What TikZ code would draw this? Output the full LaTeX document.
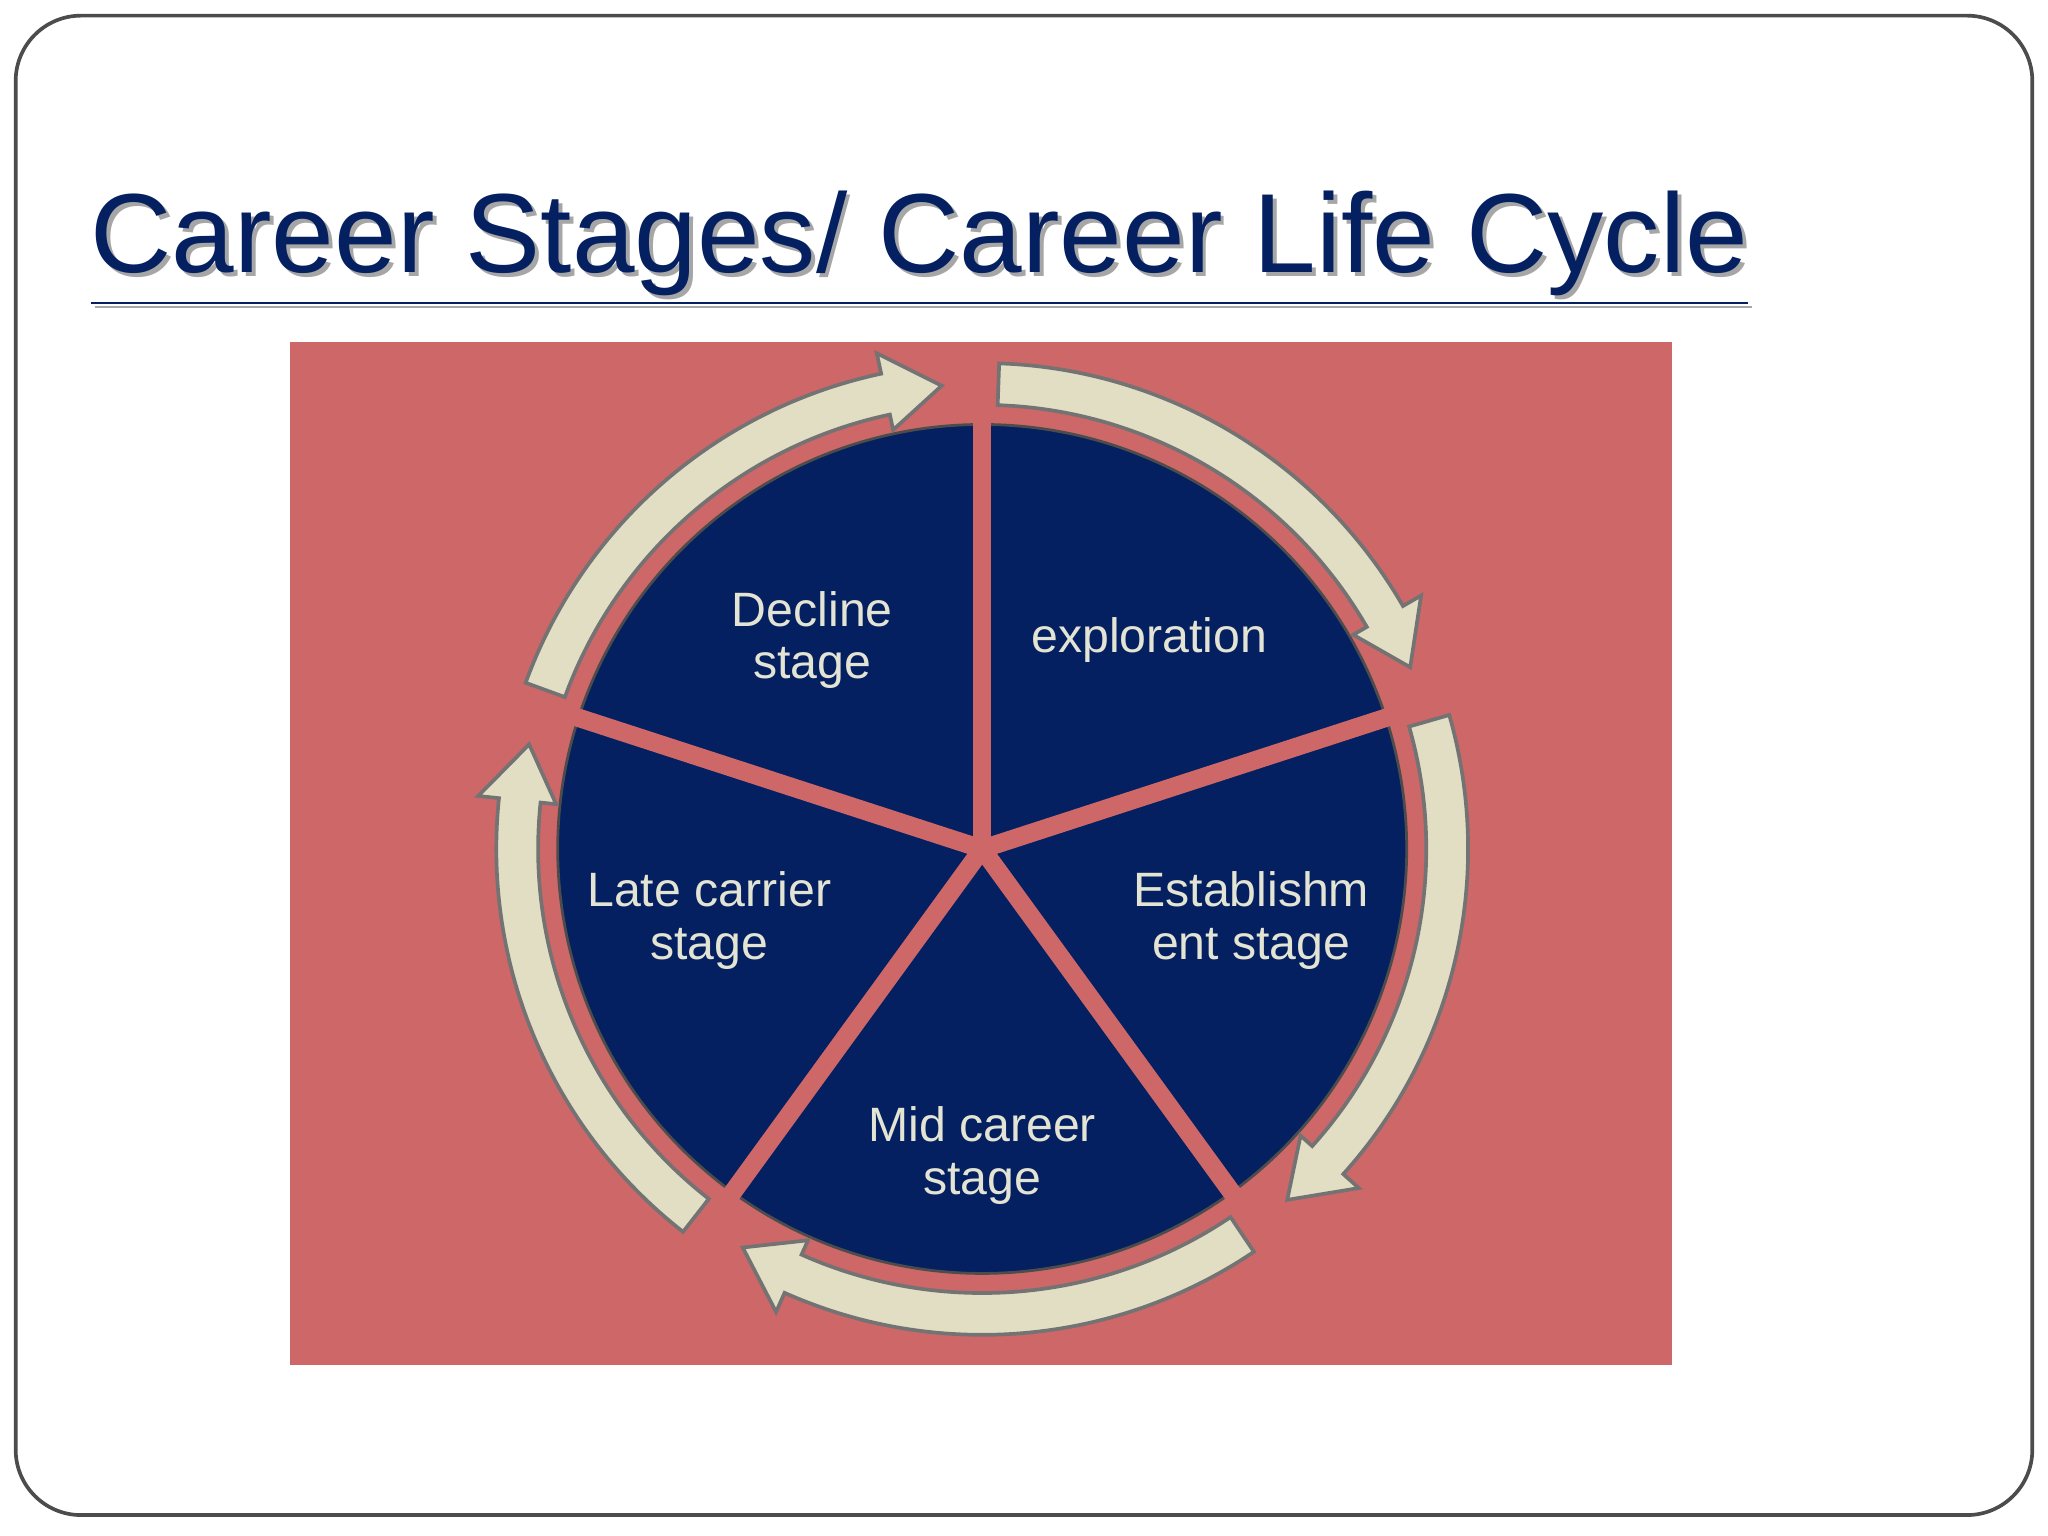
\documentclass[tikz,border=0pt]{standalone}
\usepackage{fontspec}
\setmainfont{Liberation Sans}
\usetikzlibrary{positioning,calc}
\definecolor{navy}{RGB}{4,32,96}
\definecolor{rose}{RGB}{205,103,104}
\definecolor{cream}{RGB}{226,222,196}
\definecolor{labelcol}{RGB}{228,228,212}
\begin{document}
\begin{tikzpicture}[
    x=0.01cm, y=0.01cm,
    wedge/.style={fill=navy, draw=black!70, line width=0.6pt},
    cyclearrow/.style={fill=cream, draw=black!55, line width=0.8pt},
    stagelabel/.style={text=labelcol, font=\fontsize{10.5}{11.5}\selectfont, align=center}
]
    % frame
    \useasboundingbox (0,0) rectangle (1568,1176);
    \draw[black!70, line width=0.8pt, rounded corners=0.5cm] (12,16) rectangle (1556,1164);

    % title
    \node[anchor=base west, text=black!35, font=\fontsize{24.5}{26}\selectfont] at (60,964) {\underline{Career Stages/ Career Life Cycle}};
    \node[anchor=base west, text=navy, font=\fontsize{24.5}{26}\selectfont] (title) at (57,967) {\underline{Career Stages/ Career Life Cycle}};

    % background panel
    \fill[rose] (222,131) rectangle (1280,914);

    % centre of the cycle
    \coordinate (c) at (752,526);

    % wedges
    \foreach \a in {90,18,-54,-126,162}
        \fill[wedge] (c) -- ($(c)+(\a:325)$) arc[start angle=\a, end angle=\a-72, radius=325] -- cycle;
    % gaps between wedges
    \foreach \a in {90,18,-54,-126,162}
        \draw[rose, line width=4pt] (c) -- ($(c)+(\a:330)$);
    \fill[rose] (c) circle (8);

    % arrows round the cycle
    \foreach \s in {88,16,-56,-128,160} {
        \pgfmathsetmacro{\h}{\s-58}
        \pgfmathsetmacro{\e}{\s-65}
        \draw[cyclearrow] ($(c)+(\s:340)$) arc[start angle=\s, end angle=\h, radius=340]
            -- ($(c)+(\h:328)$) -- ($(c)+(\e:356)$) -- ($(c)+(\h:388)$) -- ($(c)+(\h:372)$)
            arc[start angle=\h, end angle=\s, radius=372] -- cycle;
    }

    % labels
    \node[stagelabel] (explore) at (880,686) {exploration};
    \node[stagelabel] (establish) at (958,471) {Establishm\\ent stage};
    \node[stagelabel] (mid) at (752,291) {Mid career\\stage};
    \node[stagelabel] (late) at (543,471) {Late carrier\\stage};
    \node[stagelabel] (decline) at (622,686) {Decline\\stage};
\end{tikzpicture}
\end{document}
